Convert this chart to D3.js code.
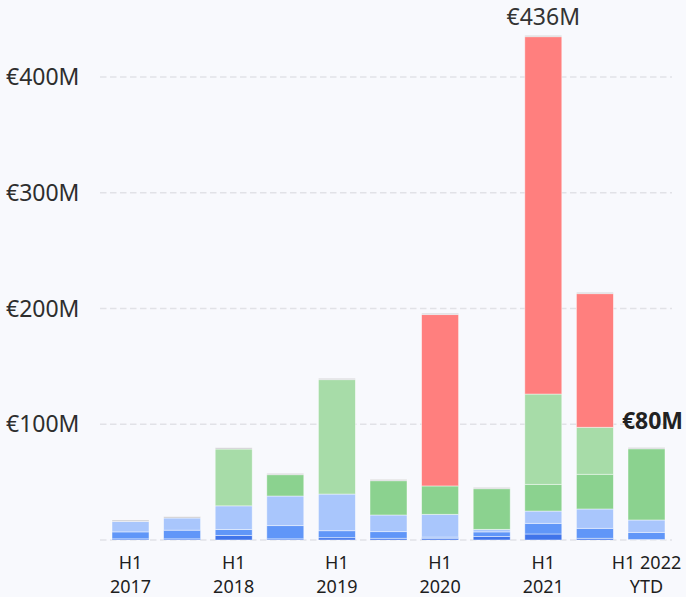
<!DOCTYPE html>
<html>
<head>
<meta charset="utf-8">
<script src="https://cdn.jsdelivr.net/npm/d3@7"></script>
<style>
  html, body { margin: 0; padding: 0; background: #f8f9fd; }
  text { font-family: "Noto Sans", sans-serif; }
</style>
</head>
<body>
<div id="chart"></div>
<script>
// periods on the x axis
var periods = ["H1 2017", "H2 2017", "H1 2018", "H2 2018", "H1 2019", "H2 2019",
               "H1 2020", "H2 2020", "H1 2021", "H2 2021", "H1 2022 YTD"];
// tick label lines (only every other bar is labelled)
var tickLines = [["H1", "2017"], [], ["H1", "2018"], [], ["H1", "2019"], [],
                 ["H1", "2020"], [], ["H1", "2021"], [], ["H1 2022", "YTD"]];

// stacked series, bottom to top, in €M
var darkBlue   = [1, 1, 4, 1, 2, 1.5, 1.5, 3, 5.2, 1.5, 0.5];
var blue       = [6, 7.5, 5, 11.4, 6, 5.7, 1, 4, 9.2, 8.6, 6.1];
var lightBlue  = [9.1, 10.5, 20.5, 25.6, 31.7, 14.4, 19.7, 2.2, 10.6, 16.7, 10.7];
var green      = [0, 0, 0, 18.4, 0, 29.6, 24.5, 35.1, 23.1, 30, 61.5];
var lightGreen = [0, 0, 49.1, 0, 98.8, 0, 0, 0, 78, 40.6, 0];
var red        = [0, 0, 0, 0, 0, 0, 148, 0, 308.7, 115.4, 0];
var grey       = [1.2, 1.2, 1.2, 1.2, 1.2, 1.2, 1.2, 1.2, 1.2, 1.2, 1.2];

var yTicks = [100, 200, 300, 400];
var totalLabels = ["", "", "", "", "", "", "", "", "€436M", "", "€80M"];
var totalBold   = [false, false, false, false, false, false, false, false, false, false, true];

var keys = ["darkBlue", "blue", "lightBlue", "green", "lightGreen", "red", "grey"];
var colors = ["#4074ea", "#6096f8", "#a9c6fc", "#8bd28f", "#a7dca8", "#ff7f7e", "#cbcbcf"];
var seriesData = [darkBlue, blue, lightBlue, green, lightGreen, red, grey];

var table = periods.map(function(p, i) {
  var row = {period: p};
  keys.forEach(function(k, j) { row[k] = seriesData[j][i]; });
  return row;
});

var W = 686, H = 597;

var svg = d3.select("#chart")
  .append("svg")
  .attr("width", W)
  .attr("height", H);

var x = d3.scaleBand()
  .domain(periods)
  .range([112, 665])
  .paddingInner(0.283)
  .paddingOuter(0);

var y = d3.scaleLinear()
  .domain([0, 400])
  .range([540, 77]);

var color = d3.scaleOrdinal().domain(keys).range(colors);

// gridlines (dashed), including the zero line
svg.append("g")
  .selectAll("line")
  .data([0].concat(yTicks))
  .enter().append("line")
    .attr("x1", 100)
    .attr("x2", 672)
    .attr("y1", function(d) { return y(d); })
    .attr("y2", function(d) { return y(d); })
    .attr("stroke", "#e1e2e7")
    .attr("stroke-width", 1.5)
    .attr("stroke-dasharray", "6.5,3.5");

// y labels
svg.append("g")
  .selectAll("text")
  .data(yTicks)
  .enter().append("text")
    .attr("x", 6)
    .attr("y", function(d) { return y(d); })
    .attr("dy", "0.35em")
    .attr("font-size", 23)
    .attr("fill", "#2e2e2e")
    .text(function(d) { return "€" + d + "M"; });

var stack = d3.stack().keys(keys);
var layers = stack(table);

svg.append("g")
  .selectAll("g")
  .data(layers)
  .enter().append("g")
    .attr("fill", function(d) { return color(d.key); })
  .selectAll("rect")
  .data(function(d) { return d; })
  .enter().append("rect")
    .attr("x", function(d) { return x(d.data.period); })
    .attr("width", x.bandwidth())
    .attr("y", function(d) { return y(d[1]); })
    .attr("height", function(d) { return Math.max(0, y(d[0]) - y(d[1])); })
    .attr("stroke", "rgba(255,255,255,0.55)")
    .attr("stroke-width", function(d) { return d[1] - d[0] > 0 ? 0.8 : 0; });

// total labels above selected bars
var totals = table.map(function(row) {
  return d3.sum(keys, function(k) { return row[k]; });
});

svg.append("g")
  .selectAll("text")
  .data(periods)
  .enter().append("text")
    .attr("x", function(d, i) { return x(d) + x.bandwidth() / 2 + (totalBold[i] ? 6 : 0); })
    .attr("y", function(d, i) { return Math.max(y(totals[i]) - 26, 17); })
    .attr("dy", "0.35em")
    .attr("text-anchor", "middle")
    .attr("font-size", 23)
    .attr("font-weight", function(d, i) { return totalBold[i] ? "bold" : "normal"; })
    .attr("fill", function(d, i) { return totalBold[i] ? "#222" : "#333"; })
    .text(function(d, i) { return totalLabels[i]; });

// x axis labels, two lines each
var xl = svg.append("g")
  .selectAll("text")
  .data(periods)
  .enter().append("text")
    .attr("x", function(d) { return x(d) + x.bandwidth() / 2; })
    .attr("y", 563)
    .attr("text-anchor", "middle")
    .attr("font-size", 18)
    .attr("fill", "#1e1e1e");

xl.selectAll("tspan")
  .data(function(d, i) { return tickLines[i]; })
  .enter().append("tspan")
    .attr("x", function() { return d3.select(this.parentNode).attr("x"); })
    .attr("dy", function(d, i) { return i === 0 ? "0.35em" : 24; })
    .text(function(d) { return d; });
</script>
</body>
</html>
